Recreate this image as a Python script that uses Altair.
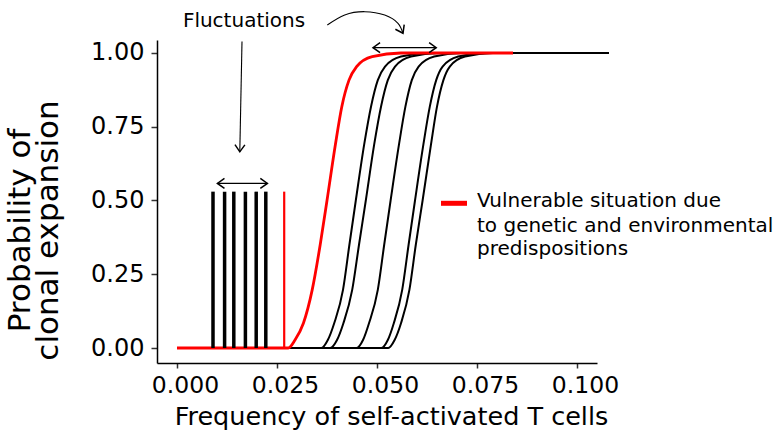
import altair as alt
import pandas as pd

# ---- data ----
prob_levels = [0.0, 0.0, 0.027, 0.084, 0.197, 0.35, 0.5, 0.69, 0.818, 0.908, 0.954, 0.988, 1.0, 1.0]
red_x = [0.0, 0.0278, 0.0295, 0.0316, 0.0338, 0.0358, 0.0375, 0.0396, 0.0412, 0.0430, 0.0449, 0.0488, 0.0560, 0.084]
black_x_1 = [0.0, 0.0361, 0.0377, 0.0393, 0.0415, 0.0431, 0.0447, 0.0468, 0.0485, 0.0502, 0.0520, 0.0560, 0.0630, 0.108]
black_x_2 = [0.0, 0.0383, 0.0400, 0.0416, 0.0438, 0.0455, 0.0472, 0.0493, 0.0510, 0.0527, 0.0545, 0.0585, 0.0655, 0.108]
black_x_3 = [0.0, 0.0449, 0.0465, 0.0480, 0.0502, 0.0518, 0.0534, 0.0555, 0.0571, 0.0587, 0.0604, 0.0643, 0.0710, 0.108]
black_x_4 = [0.0, 0.0511, 0.0527, 0.0542, 0.0563, 0.0579, 0.0595, 0.0616, 0.0632, 0.0648, 0.0664, 0.0703, 0.0770, 0.108]
black_x_5 = [0.0, 0.0528, 0.0544, 0.0560, 0.0581, 0.0597, 0.0614, 0.0635, 0.0650, 0.0666, 0.0682, 0.0720, 0.0790, 0.108]

bar_black_x = [0.0090, 0.0119, 0.0142, 0.0171, 0.0198, 0.0222]
bar_red_x = [0.0268]
bar_top = 0.53

x_ticks = [0.0, 0.025, 0.05, 0.075, 0.1]
y_ticks = [0.0, 0.25, 0.5, 0.75, 1.0]

legend_lines = ["Vulnerable situation due", "to genetic and environmental", "predispositions"]
annotation_text = "Fluctuations"

FONT = "DejaVu Sans"

# ---- tables ----
def curve_table(names_xs):
    rows = []
    for name, xs in names_xs:
        for xv, pv in zip(xs, prob_levels):
            rows.append({"curve": name, "x": xv, "p": pv})
    return pd.DataFrame(rows)

black_df = curve_table([("b1", black_x_1), ("b2", black_x_2), ("b3", black_x_3),
                        ("b4", black_x_4), ("b5", black_x_5)])
red_df = curve_table([("red", red_x)])
bars_black_df = pd.DataFrame({"x": bar_black_x, "y0": 0.0, "y1": bar_top})
bars_red_df = pd.DataFrame({"x": bar_red_x, "y0": 0.0, "y1": bar_top})

xscale = alt.Scale(domain=[-0.005, 0.105], nice=False, zero=False)
yscale = alt.Scale(domain=[-0.0508, 1.044], nice=False, zero=False)

x_axis = alt.Axis(values=x_ticks, format=".3f", grid=False, labelFlush=False, labelOverlap=False,
                  domainColor="black", domainWidth=1.5, tickColor="#333333", tickWidth=1.5, tickSize=5,
                  labelFont=FONT, labelFontSize=23.5, labelColor="black", labelPadding=5, labelOffset=8,
                  title="Frequency of self-activated T cells", titleFont=FONT, titleFontSize=25.5,
                  titleFontWeight="normal", titleColor="black", titleX=234, titleY=61,
                  titleAlign="center", titleBaseline="alphabetic")
y_axis = alt.Axis(values=y_ticks, format=".2f", grid=False, labelOverlap=False,
                  domainColor="black", domainWidth=1.5, tickColor="#333333", tickWidth=1.5, tickSize=6,
                  labelFont=FONT, labelFontSize=24, labelColor="black", labelPadding=7,
                  title=["Probability of", "clonal expansion"], titleFont=FONT, titleFontSize=31,
                  titleFontWeight="normal", titleColor="black", titleAngle=270,
                  titleX=-128, titleY=190, titleAlign="center", titleBaseline="alphabetic",
                  titleLineHeight=28)

X = lambda f="x": alt.X(f"{f}:Q", scale=xscale, axis=x_axis)
Y = lambda f="p": alt.Y(f"{f}:Q", scale=yscale, axis=y_axis)

black_lines = alt.Chart(black_df).mark_line(color="black", strokeWidth=2, interpolate="monotone").encode(
    x=X(), y=Y(), detail="curve:N")
red_line = alt.Chart(red_df).mark_line(color="#ff0000", strokeWidth=2.8, interpolate="monotone").encode(
    x=X(), y=Y())
bars_black = alt.Chart(bars_black_df).mark_rule(color="black", strokeWidth=3.5).encode(
    x=X(), y=Y("y0"), y2="y1:Q")
bars_red = alt.Chart(bars_red_df).mark_rule(color="#ff0000", strokeWidth=2.2).encode(
    x=X(), y=Y("y0"), y2="y1:Q")

# ---- annotations (data coordinates) ----
seg_df = pd.DataFrame({
    "x": [0.01625, 0.0101, 0.0490],
    "y": [1.039, 0.558, 1.018],
    "x2": [0.0157, 0.0226, 0.0648],
    "y2": [0.665, 0.558, 1.018],
})
segs = alt.Chart(seg_df).mark_rule(color="black", strokeWidth=1.1).encode(
    x=X(), y=Y("y"), x2="x2:Q", y2="y2:Q")

curve_arrow_df = pd.DataFrame({"x": [0.03758, 0.04193, 0.04693, 0.05193, 0.05525, 0.0565],
                               "p": [1.0949, 1.1288, 1.1400, 1.1288, 1.1007, 1.0668]})
curve_arrow = alt.Chart(curve_arrow_df).mark_line(color="black", strokeWidth=1.1, interpolate="natural").encode(
    x=X(), y=Y())

head_df = pd.DataFrame({
    "x": [0.0157, 0.0101, 0.0226, 0.0490, 0.0648, 0.0565],
    "p": [0.665, 0.558, 0.558, 1.018, 1.018, 1.0668],
    "ang": [91, 180, 0, 180, 0, 63],
})
heads = alt.Chart(head_df).mark_point(shape="M -1 -0.7 L 0 0 L -1 0.7", filled=False, color="black",
                                      strokeWidth=1.5, size=200, opacity=1).encode(
    x=X(), y=Y(), angle=alt.Angle("ang:Q", scale=None))

fluct_df = pd.DataFrame({"x": [0.01675], "p": [1.088], "t": [annotation_text]})
fluct = alt.Chart(fluct_df).mark_text(font=FONT, fontSize=20, color="black", align="center",
                                      baseline="alphabetic").encode(x=X(), y=Y(), text="t:N")

leg_key_df = pd.DataFrame({"x": [0.066], "x2": [0.0725], "p": [0.4905]})
leg_key = alt.Chart(leg_key_df).mark_rule(color="#ff0000", strokeWidth=5).encode(
    x=X(), x2="x2:Q", y=Y())
leg_text_df = pd.DataFrame({"x": [0.075] * 3, "p": [0.479, 0.394, 0.315], "t": legend_lines})
leg_text = alt.Chart(leg_text_df).mark_text(font=FONT, fontSize=20, color="black", align="left",
                                            baseline="alphabetic").encode(x=X(), y=Y(), text="t:N")

chart = alt.layer(black_lines, red_line, bars_black, bars_red, segs, curve_arrow, heads, fluct,
                  leg_key, leg_text).properties(
    width=440, height=323,
    padding={"left": 157, "top": 40, "right": 178, "bottom": 69},
    autosize=alt.AutoSizeParams(type="none"),
    background="white",
).configure_view(stroke=None)

chart.save("out.html", embed_options={"renderer": "svg", "actions": False})
